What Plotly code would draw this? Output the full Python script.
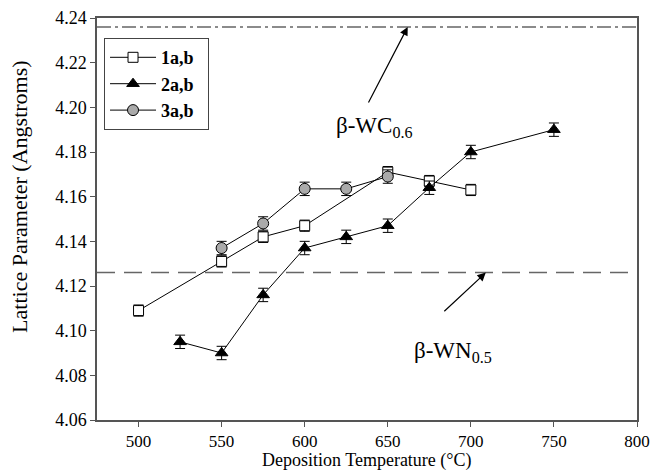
import plotly.graph_objects as go

# Data
temp1 = [500, 550, 575, 600, 650, 675, 700]
lat1 = [4.109, 4.131, 4.142, 4.147, 4.171, 4.167, 4.163]
err1 = [0.0025, 0.0025, 0.0025, 0.0025, 0.0025, 0.0025, 0.0025]

temp2 = [525, 550, 575, 600, 625, 650, 675, 700, 750]
lat2 = [4.095, 4.090, 4.116, 4.137, 4.142, 4.147, 4.164, 4.180, 4.190]
err2 = [0.003, 0.003, 0.003, 0.003, 0.003, 0.003, 0.003, 0.003, 0.003]

temp3 = [550, 575, 600, 625, 650]
lat3 = [4.137, 4.148, 4.1635, 4.1635, 4.169]
err3 = [0.003, 0.003, 0.003, 0.003, 0.003]

series_names = ["1a,b", "2a,b", "3a,b"]

ref_wc = 4.236
ref_wn = 4.126
x_range = [475, 800]
y_range = [4.06, 4.24]

font_family = "Liberation Serif, Times New Roman, serif"
axis_col = "#555555"
pad = "\u00a0\u00a0"

fig = go.Figure()

fig.add_trace(go.Scatter(x=x_range, y=[ref_wc, ref_wc], mode="lines",
                         line=dict(color="#666666", width=1.5, dash="14px,4px,3px,4px"),
                         showlegend=False, hoverinfo="skip"))
fig.add_trace(go.Scatter(x=x_range, y=[ref_wn, ref_wn], mode="lines",
                         line=dict(color="#666666", width=1.5, dash="18px,9px"),
                         showlegend=False, hoverinfo="skip"))

def err(a):
    return dict(type="data", array=a, visible=True, color="black", thickness=1, width=5)

fig.add_trace(go.Scatter(x=temp1, y=lat1, mode="lines+markers", name=series_names[0] + pad,
                         line=dict(color="black", width=1),
                         marker=dict(symbol="square", size=10, color="white",
                                     line=dict(color="black", width=1)),
                         error_y=err(err1)))
fig.add_trace(go.Scatter(x=temp2, y=lat2, mode="lines+markers", name=series_names[1] + pad,
                         line=dict(color="black", width=1),
                         marker=dict(symbol="triangle-up", size=11, color="black",
                                     line=dict(color="black", width=1)),
                         error_y=err(err2)))
fig.add_trace(go.Scatter(x=temp3, y=lat3, mode="lines+markers", name=series_names[2] + pad,
                         line=dict(color="black", width=1),
                         marker=dict(symbol="circle", size=11, color="#aaaaaa",
                                     line=dict(color="black", width=1)),
                         error_y=err(err3)))

# reference-phase labels and arrows
fig.add_annotation(x=662, y=ref_wc, ax=-40, ay=77, xref="x", yref="y",
                   showarrow=True, arrowhead=2, arrowsize=1.4, arrowwidth=1.2,
                   arrowcolor="black", text="")
fig.add_annotation(x=642, y=4.191, xref="x", yref="y", showarrow=False,
                   text="β-WC<sub>0.6</sub>", font=dict(family=font_family, size=23, color="black"))
fig.add_annotation(x=709, y=ref_wn, ax=-43, ay=40, xref="x", yref="y",
                   showarrow=True, arrowhead=2, arrowsize=1.4, arrowwidth=1.2,
                   arrowcolor="black", text="")
fig.add_annotation(x=689, y=4.0905, xref="x", yref="y", showarrow=False,
                   text="β-WN<sub>0.5</sub>", font=dict(family=font_family, size=23, color="black"))

# axis titles
fig.add_annotation(x=0.5, y=-0.1294, xref="paper", yref="paper", xanchor="center", yanchor="bottom",
                   showarrow=False, text="Deposition Temperature (°C)", borderpad=0,
                   font=dict(family=font_family, size=18, color="black"))
fig.add_annotation(x=-0.1426, y=0.555, xref="paper", yref="paper", xanchor="center", yanchor="middle",
                   textangle=-90, showarrow=False, text="Lattice Parameter (Angstroms)",
                   font=dict(family=font_family, size=22, color="black"))

fig.update_layout(
    width=653, height=472,
    margin=dict(l=97, r=16, t=18, b=52),
    paper_bgcolor="white", plot_bgcolor="white",
    font=dict(family=font_family, size=17, color="black"),
    showlegend=True,
    legend=dict(x=0.013, y=0.95, xanchor="left", yanchor="top",
                bordercolor="#444444", borderwidth=1, bgcolor="white",
                font=dict(family=font_family, size=18, color="black", weight="bold"),
                itemwidth=46, tracegroupgap=0),
    xaxis=dict(range=x_range, tickvals=[500, 550, 600, 650, 700, 750, 800],
               ticks="outside", ticklen=5, tickcolor=axis_col, automargin=False,
               tickfont=dict(size=17),
               showline=True, linecolor=axis_col, linewidth=1.5, mirror=True,
               showgrid=False, zeroline=False),
    yaxis=dict(range=y_range, dtick=0.02, tickformat=".2f",
               ticks="outside", ticklen=5, tickcolor=axis_col, automargin=False,
               tickfont=dict(size=18),
               showline=True, linecolor=axis_col, linewidth=1.5, mirror=True,
               showgrid=False, zeroline=False),
)

fig.write_html("out.html")
